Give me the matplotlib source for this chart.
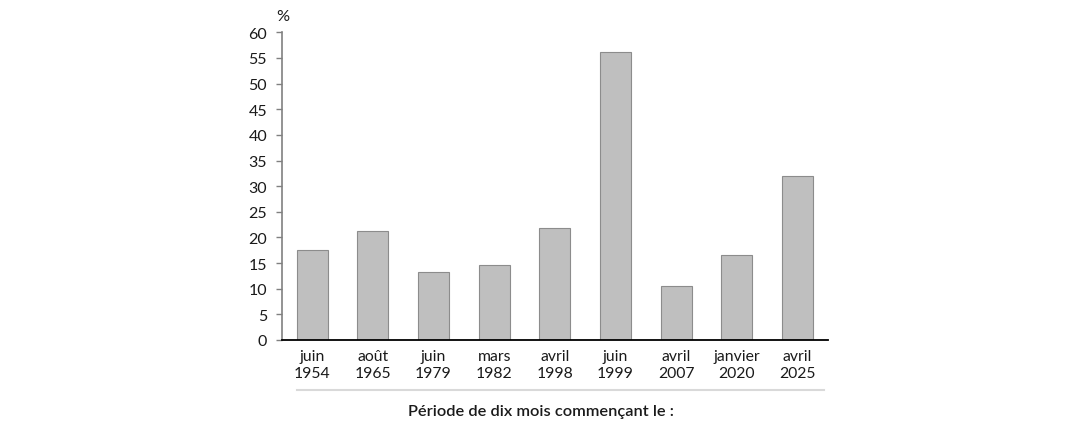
import matplotlib
matplotlib.use("Agg")
import matplotlib.pyplot as plt
from matplotlib.lines import Line2D

plt.rcParams['font.family'] = ['Lato', 'DejaVu Sans']

categories = ["juin\n1954", "août\n1965", "juin\n1979", "mars\n1982", "avril\n1998",
              "juin\n1999", "avril\n2007", "janvier\n2020", "avril\n2025"]
values = [17.6, 21.2, 13.2, 14.7, 21.8, 56.2, 10.5, 16.5, 31.9]
yticks = list(range(0, 61, 5))

fig = plt.figure(figsize=(10.8, 4.31), dpi=100)
ax = fig.add_axes([281.7/1080, 1-341/431, (828-281.7)/1080, (341-33.3)/431])

x = list(range(len(categories)))
ax.bar(x, values, width=0.51, color="#bfbfbf", edgecolor="#8c8c8c", linewidth=0.8, zorder=2)

ax.set_xlim(-0.5, len(categories)-0.5)
ax.set_ylim(0, 60)
ax.set_yticks(yticks)
ax.set_xticks(x)
ax.set_xticklabels(categories, fontsize=11.3, color="#1a1a1a", linespacing=1.25)
ax.tick_params(axis='x', length=0, pad=6.5)
ax.tick_params(axis='y', length=4.5, width=1, color="#808080", pad=6, labelsize=11.5, labelcolor="#1a1a1a")

for s in ['top', 'right']:
    ax.spines[s].set_visible(False)
ax.spines['left'].set_color("#808080")
ax.spines['left'].set_linewidth(1.2)
ax.spines['bottom'].set_color("#000000")
ax.spines['bottom'].set_linewidth(1.3)

fig.text(283/1080, 1-17/431, "%", fontsize=11.7, ha='center', va='center', color="#1a1a1a")

fig.add_artist(Line2D([297/1080, 824/1080], [1-390.5/431, 1-390.5/431],
                      color="#d9d9d9", linewidth=1.5, transform=fig.transFigure))

fig.text(541/1080, 1-412/431, "Période de dix mois commençant le :", fontsize=11.8,
         ha='center', va='center', color="#1a1a1a", fontweight='semibold')

fig.savefig("out.png", dpi=100)
